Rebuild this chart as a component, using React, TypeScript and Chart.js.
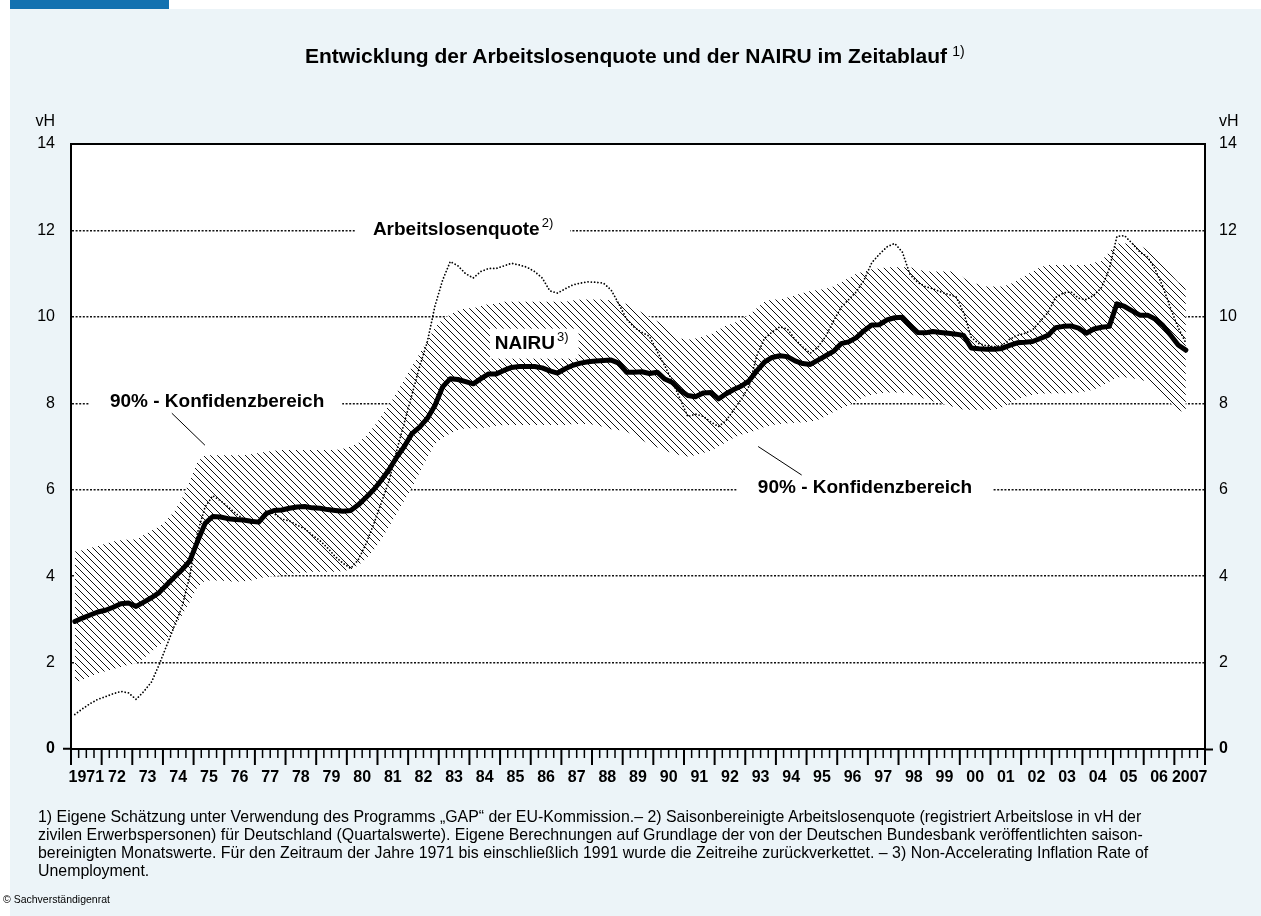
import React, { useEffect, useRef } from 'react';
import { Chart, registerables } from 'chart.js';

Chart.register(...registerables);

const FONT = '"Liberation Sans", Arial, Helvetica, sans-serif';
const FIRST_YEAR = 1971;
const AXIS_END = 2008;

const yearLabels = [
  '1971', '72', '73', '74', '75', '76', '77', '78', '79', '80',
  '81', '82', '83', '84', '85', '86', '87', '88', '89', '90',
  '91', '92', '93', '94', '95', '96', '97', '98', '99', '00',
  '01', '02', '03', '04', '05', '06', '2007',
];

const yTickValues = [0, 2, 4, 6, 8, 10, 12, 14];

// Quarterly values 1971 Q1 – 2007 Q2
const nairu = [
  2.95, 3.03, 3.10, 3.17, 3.21, 3.28, 3.36, 3.38, 3.30, 3.40, 3.50, 3.62,
  3.80, 3.98, 4.15, 4.35, 4.80, 5.22, 5.38, 5.37, 5.33, 5.31, 5.30, 5.27,
  5.25, 5.45, 5.52, 5.53, 5.57, 5.60, 5.61, 5.58, 5.57, 5.54, 5.52, 5.50,
  5.52, 5.65, 5.82, 6.00, 6.22, 6.46, 6.75, 7.00, 7.30, 7.45, 7.65, 7.95,
  8.38, 8.57, 8.55, 8.50, 8.45, 8.57, 8.68, 8.68, 8.76, 8.83, 8.85, 8.85,
  8.85, 8.82, 8.75, 8.70, 8.80, 8.88, 8.93, 8.96, 8.98, 8.99, 9.00, 8.93,
  8.72, 8.72, 8.73, 8.69, 8.72, 8.56, 8.48, 8.30, 8.18, 8.15, 8.24, 8.25,
  8.10, 8.22, 8.32, 8.40, 8.52, 8.75, 8.95, 9.06, 9.10, 9.08, 8.98, 8.92,
  8.90, 9.00, 9.10, 9.20, 9.38, 9.42, 9.52, 9.68, 9.81, 9.82, 9.93, 9.98,
  9.99, 9.80, 9.64, 9.63, 9.66, 9.64, 9.62, 9.60, 9.57, 9.28, 9.26, 9.25,
  9.25, 9.27, 9.34, 9.40, 9.41, 9.43, 9.50, 9.57, 9.75, 9.78, 9.79, 9.74,
  9.62, 9.72, 9.76, 9.78, 10.30, 10.24, 10.14, 10.04, 10.04, 9.95, 9.80, 9.58,
  9.35, 9.23,
];

const arbeitslosenquote = [
  0.80, 0.93, 1.05, 1.15, 1.21, 1.28, 1.33, 1.30, 1.15, 1.33, 1.55, 1.95,
  2.40, 2.85, 3.30, 4.00, 5.00, 5.60, 5.86, 5.75, 5.60, 5.45, 5.32, 5.22,
  5.28, 5.50, 5.45, 5.32, 5.28, 5.18, 5.10, 4.95, 4.82, 4.65, 4.45, 4.30,
  4.18, 4.38, 4.75, 5.20, 5.70, 6.20, 6.90, 7.55, 8.20, 8.85, 9.42, 10.25,
  10.85, 11.28, 11.18, 11.00, 10.90, 11.05, 11.12, 11.12, 11.18, 11.24, 11.20, 11.15,
  11.05, 10.90, 10.60, 10.55, 10.65, 10.74, 10.78, 10.81, 10.80, 10.78, 10.62, 10.30,
  9.95, 9.76, 9.64, 9.55, 9.20, 8.87, 8.50, 8.10, 7.69, 7.75, 7.70, 7.57,
  7.46, 7.60, 7.85, 8.10, 8.40, 9.10, 9.50, 9.65, 9.77, 9.72, 9.48, 9.30,
  9.16, 9.30, 9.55, 9.90, 10.22, 10.40, 10.58, 10.85, 11.25, 11.45, 11.62, 11.70,
  11.50, 10.98, 10.80, 10.70, 10.65, 10.58, 10.52, 10.47, 10.10, 9.52, 9.38, 9.33,
  9.31, 9.34, 9.48, 9.57, 9.62, 9.70, 9.90, 10.10, 10.45, 10.55, 10.58, 10.43,
  10.40, 10.50, 10.68, 11.10, 11.86, 11.88, 11.70, 11.50, 11.39, 11.10, 10.70, 10.20,
  9.75, 9.40,
];

const bandUpper = [
  4.57, 4.60, 4.65, 4.70, 4.75, 4.80, 4.83, 4.85, 4.85, 4.95, 5.05, 5.15,
  5.30, 5.50, 5.80, 6.20, 6.65, 6.80, 6.80, 6.80, 6.80, 6.80, 6.80, 6.82,
  6.85, 6.88, 6.90, 6.92, 6.92, 6.92, 6.92, 6.92, 6.92, 6.92, 6.92, 6.95,
  7.00, 7.08, 7.25, 7.45, 7.70, 7.95, 8.25, 8.55, 8.85, 9.15, 9.45, 9.75,
  9.95, 10.05, 10.15, 10.20, 10.20, 10.25, 10.30, 10.30, 10.35, 10.35, 10.35, 10.35,
  10.35, 10.35, 10.35, 10.35, 10.35, 10.38, 10.40, 10.40, 10.40, 10.40, 10.38, 10.35,
  10.30, 10.20, 10.10, 10.00, 9.90, 9.80, 9.65, 9.50, 9.47, 9.50, 9.55, 9.60,
  9.70, 9.80, 9.85, 9.95, 10.05, 10.20, 10.35, 10.40, 10.40, 10.45, 10.50, 10.55,
  10.60, 10.62, 10.65, 10.70, 10.80, 10.90, 11.00, 11.05, 11.10, 11.12, 11.15, 11.15,
  11.15, 11.15, 11.10, 11.05, 11.05, 11.05, 11.05, 11.05, 10.90, 10.80, 10.75, 10.70,
  10.70, 10.70, 10.75, 10.85, 10.95, 11.05, 11.15, 11.20, 11.20, 11.20, 11.20, 11.20,
  11.20, 11.25, 11.30, 11.50, 11.70, 11.70, 11.70, 11.65, 11.55, 11.40, 11.20, 11.00,
  10.80, 10.70,
];

const bandLower = [
  1.52, 1.60, 1.68, 1.75, 1.80, 1.85, 1.90, 1.95, 1.98, 2.10, 2.25, 2.40,
  2.55, 2.80, 3.10, 3.40, 3.75, 3.90, 3.90, 3.90, 3.88, 3.87, 3.88, 3.90,
  3.95, 3.98, 4.00, 4.02, 4.05, 4.07, 4.08, 4.10, 4.10, 4.10, 4.10, 4.12,
  4.15, 4.25, 4.40, 4.60, 4.85, 5.15, 5.45, 5.75, 6.05, 6.40, 6.75, 7.05,
  7.20, 7.30, 7.38, 7.42, 7.42, 7.42, 7.45, 7.48, 7.50, 7.50, 7.50, 7.50,
  7.50, 7.50, 7.50, 7.50, 7.50, 7.52, 7.52, 7.52, 7.50, 7.45, 7.40, 7.38,
  7.35, 7.25, 7.15, 7.05, 6.98, 6.90, 6.85, 6.80, 6.77, 6.80, 6.85, 6.90,
  7.00, 7.10, 7.20, 7.28, 7.32, 7.38, 7.45, 7.50, 7.52, 7.54, 7.55, 7.56,
  7.58, 7.62, 7.70, 7.80, 7.88, 7.95, 8.05, 8.15, 8.20, 8.23, 8.25, 8.25,
  8.25, 8.22, 8.15, 8.10, 8.05, 8.00, 7.95, 7.90, 7.85, 7.85, 7.85, 7.85,
  7.85, 7.90, 8.00, 8.10, 8.15, 8.20, 8.22, 8.23, 8.23, 8.23, 8.23, 8.25,
  8.28, 8.32, 8.40, 8.50, 8.60, 8.60, 8.58, 8.55, 8.50, 8.40, 8.20, 8.00,
  7.85, 7.77,
];

type Annot = {
  text: string; sup?: string; x: number; y: number; dy: number;
  padL: number; padR: number; boxH: number;
};

const annotations: Annot[] = [
  { text: 'Arbeitslosenquote', sup: '2)', x: 1980.85, y: 12, dy: -1, padL: 18, padR: 17, boxH: 14 },
  { text: 'NAIRU', sup: '3)', x: 1984.83, y: 9.38, dy: 0, padL: 5, padR: 10, boxH: 30 },
  { text: '90% - Konfidenzbereich', x: 1972.27, y: 8, dy: -2, padL: 20, padR: 18, boxH: 14 },
  { text: '90% - Konfidenzbereich', x: 1993.41, y: 6, dy: -2, padL: 21, padR: 20, boxH: 14 },
];

const leaders = [
  { x1: 1974.29, y1: 7.77, x2: 1975.37, y2: 7.03 },
  { x1: 1993.42, y1: 7.0, x2: 1994.84, y2: 6.34 },
];

function toPoints(arr: number[]) {
  return arr.map((v, i) => ({ x: FIRST_YEAR + i / 4 + 0.125, y: v }));
}

function makeHatch(): CanvasPattern | string {
  const s = 7;
  const c = document.createElement('canvas');
  c.width = s;
  c.height = s;
  const g = c.getContext('2d');
  if (!g) return '#ccc';
  g.fillStyle = '#fff';
  g.fillRect(0, 0, s, s);
  g.strokeStyle = '#111';
  g.lineWidth = 1;
  g.beginPath();
  g.moveTo(-1, -1);
  g.lineTo(s + 1, s + 1);
  g.moveTo(-1, s - 1);
  g.lineTo(1, s + 1);
  g.moveTo(s - 1, -1);
  g.lineTo(s + 1, 1);
  g.stroke();
  return g.createPattern(c, 'repeat') || '#ccc';
}

const overlayPlugin = {
  id: 'overlay',
  beforeDraw(chart: any) {
    const { ctx, chartArea: a } = chart;
    ctx.save();
    ctx.fillStyle = '#fff';
    ctx.fillRect(a.left, a.top, a.right - a.left, a.bottom - a.top);
    ctx.restore();
  },
  afterDatasetsDraw(chart: any) {
    const { ctx } = chart;
    const xs = chart.scales.x;
    const ys = chart.scales.y;
    ctx.save();
    for (const an of annotations) {
      const px = xs.getPixelForValue(an.x);
      const py = ys.getPixelForValue(an.y) + an.dy;
      ctx.font = `bold 19px ${FONT}`;
      const w = ctx.measureText(an.text).width;
      ctx.font = `13px ${FONT}`;
      const sw = an.sup ? ctx.measureText(an.sup).width + 2 : 0;
      ctx.fillStyle = '#fff';
      ctx.fillRect(px - an.padL, py - an.boxH / 2, w + sw + an.padL + an.padR, an.boxH);
      ctx.fillStyle = '#000';
      ctx.textAlign = 'left';
      ctx.textBaseline = 'middle';
      ctx.font = `bold 19px ${FONT}`;
      ctx.fillText(an.text, px, py);
      if (an.sup) {
        ctx.font = `13px ${FONT}`;
        ctx.fillText(an.sup, px + w + 2, py - 6);
      }
    }
    ctx.strokeStyle = '#000';
    ctx.lineWidth = 1;
    for (const l of leaders) {
      ctx.beginPath();
      ctx.moveTo(xs.getPixelForValue(l.x1), ys.getPixelForValue(l.y1));
      ctx.lineTo(xs.getPixelForValue(l.x2), ys.getPixelForValue(l.y2));
      ctx.stroke();
    }
    ctx.restore();
  },
  afterDraw(chart: any) {
    const { ctx, chartArea } = chart;
    const xs = chart.scales.x;
    const base = chartArea.bottom;
    ctx.save();
    ctx.strokeStyle = '#000';
    const nQ = (AXIS_END - FIRST_YEAR) * 4;
    for (let q = 0; q <= nQ; q++) {
      const major = q % 4 === 0;
      const px = xs.getPixelForValue(FIRST_YEAR + q / 4);
      ctx.lineWidth = major ? 2 : 1.5;
      ctx.beginPath();
      ctx.moveTo(px, base);
      ctx.lineTo(px, base + (major ? 16 : 9));
      ctx.stroke();
    }
    ctx.restore();
  },
};

export default function App() {
  const ref = useRef<HTMLCanvasElement>(null);

  useEffect(() => {
    const canvas = ref.current;
    if (!canvas) return;
    const hatch = makeHatch();
    const tickFont = (bold: boolean) => ({ family: FONT, size: 16, weight: bold ? 'bold' : 'normal' });
    const gridColor = (c: any) => (c.tick && c.tick.value > 0 && c.tick.value < 14 ? '#111' : 'rgba(0,0,0,0)');
    const zeroTick = (c: any) => (c.tick && c.tick.value === 0 ? '#000' : 'rgba(0,0,0,0)');

    const chart = new Chart(canvas, {
      type: 'line',
      data: {
        datasets: [
          {
            label: 'oben', data: toPoints(bandUpper), fill: '+1', backgroundColor: hatch as any,
            borderWidth: 0, borderColor: 'rgba(0,0,0,0)', pointRadius: 0, order: 10,
          },
          {
            label: 'unten', data: toPoints(bandLower), fill: false,
            borderWidth: 0, borderColor: 'rgba(0,0,0,0)', pointRadius: 0, order: 11,
          },
          {
            label: 'Arbeitslosenquote', data: toPoints(arbeitslosenquote), fill: false,
            borderColor: '#000', borderWidth: 1.8, borderDash: [0.01, 3.3], borderCapStyle: 'round',
            pointRadius: 0, order: 2,
          },
          {
            label: 'NAIRU', data: toPoints(nairu), fill: false,
            borderColor: '#000', borderWidth: 5, borderJoinStyle: 'round', borderCapStyle: 'round',
            pointRadius: 0, order: 1,
          },
        ],
      } as any,
      options: {
        responsive: false,
        animation: false,
        devicePixelRatio: 1,
        events: [],
        layout: { padding: 0 },
        plugins: {
          legend: { display: false },
          tooltip: { enabled: false },
          filler: { propagate: false },
        },
        scales: {
          x: {
            type: 'linear', position: 'bottom', min: FIRST_YEAR, max: AXIS_END,
            afterFit: (s: any) => { s.height = 167; },
            afterBuildTicks: (s: any) => { s.ticks = yearLabels.map((_, i) => ({ value: FIRST_YEAR + i + 0.5 })); },
            ticks: {
              autoSkip: false, maxRotation: 0, minRotation: 0, padding: 19, color: '#000',
              font: tickFont(true) as any,
              callback: (_v: any, i: number) => yearLabels[i],
            },
            grid: { display: false, drawTicks: false },
            border: { display: true, color: '#000', width: 2 },
          },
          xTop: {
            type: 'linear', position: 'top', min: 0, max: 1,
            afterFit: (s: any) => { s.height = 144; },
            ticks: { display: false },
            grid: { display: false, drawTicks: false },
            border: { display: true, color: '#000', width: 2 },
          },
          y: {
            type: 'linear', position: 'left', min: 0, max: 14,
            afterFit: (s: any) => { s.width = 71; },
            afterBuildTicks: (s: any) => { s.ticks = yTickValues.map((v) => ({ value: v })); },
            ticks: {
              padding: 8, color: '#000',
              font: ((c: any) => tickFont(!!(c.tick && c.tick.value === 0))) as any,
            },
            grid: {
              color: gridColor, lineWidth: 1.5, tickLength: 8, tickWidth: 2, tickColor: zeroTick,
            },
            border: { display: true, color: '#000', width: 2, dash: [2, 1.6] },
          },
          yRight: {
            type: 'linear', position: 'right', min: 0, max: 14,
            afterFit: (s: any) => { s.width = 56; },
            afterBuildTicks: (s: any) => { s.ticks = yTickValues.map((v) => ({ value: v })); },
            ticks: {
              padding: 6, color: '#000',
              font: ((c: any) => tickFont(!!(c.tick && c.tick.value === 0))) as any,
            },
            grid: {
              drawOnChartArea: false, tickLength: 8, tickWidth: 2, tickColor: zeroTick,
            },
            border: { display: true, color: '#000', width: 2 },
          },
        },
      } as any,
      plugins: [overlayPlugin],
    });
    return () => chart.destroy();
  }, []);

  const foot: React.CSSProperties = {
    position: 'absolute', left: 38, fontSize: 15.9, lineHeight: '18px', whiteSpace: 'nowrap', color: '#000',
  };

  return (
    <div style={{ position: 'absolute', left: 0, top: 0, width: 1261, height: 916, background: '#fff', overflow: 'hidden', fontFamily: FONT }}>
      <div style={{ position: 'absolute', left: 10, top: 0, width: 159, height: 10, background: '#1271b0' }} />
      <div style={{ position: 'absolute', left: 10, top: 9, right: 0, bottom: 0, background: '#ecf4f8' }} />
      <canvas ref={ref} width={1261} height={916} style={{ position: 'absolute', left: 0, top: 0, width: 1261, height: 916 }} />
      <div style={{ position: 'absolute', left: 305, top: 45, fontSize: 21, fontWeight: 'bold', lineHeight: '21px', whiteSpace: 'nowrap', color: '#000' }}>
        Entwicklung der Arbeitslosenquote und der NAIRU im Zeitablauf
        <span style={{ fontWeight: 'normal', fontSize: 14, position: 'relative', top: -7, marginLeft: 5 }}>1)</span>
      </div>
      <div style={{ position: 'absolute', left: 20, width: 35, textAlign: 'right', top: 112, fontSize: 16, lineHeight: '18px' }}>vH</div>
      <div style={{ position: 'absolute', left: 1219, top: 112, fontSize: 16, lineHeight: '18px' }}>vH</div>
      <div style={{ ...foot, top: 808 }}>1) Eigene Schätzung unter Verwendung des Programms „GAP“ der EU-Kommission.– 2) Saisonbereinigte Arbeitslosenquote (registriert Arbeitslose in vH der</div>
      <div style={{ ...foot, top: 826 }}>zivilen Erwerbspersonen) für Deutschland (Quartalswerte). Eigene Berechnungen auf Grundlage der von der Deutschen Bundesbank veröffentlichten saison-</div>
      <div style={{ ...foot, top: 844 }}>bereinigten Monatswerte. Für den Zeitraum der Jahre 1971 bis einschließlich 1991 wurde die Zeitreihe zurückverkettet. – 3) Non-Accelerating Inflation Rate of</div>
      <div style={{ ...foot, top: 862 }}>Unemployment.</div>
      <div style={{ position: 'absolute', left: 3, top: 893, fontSize: 10.5, lineHeight: '12px', whiteSpace: 'nowrap' }}>© Sachverständigenrat</div>
    </div>
  );
}
